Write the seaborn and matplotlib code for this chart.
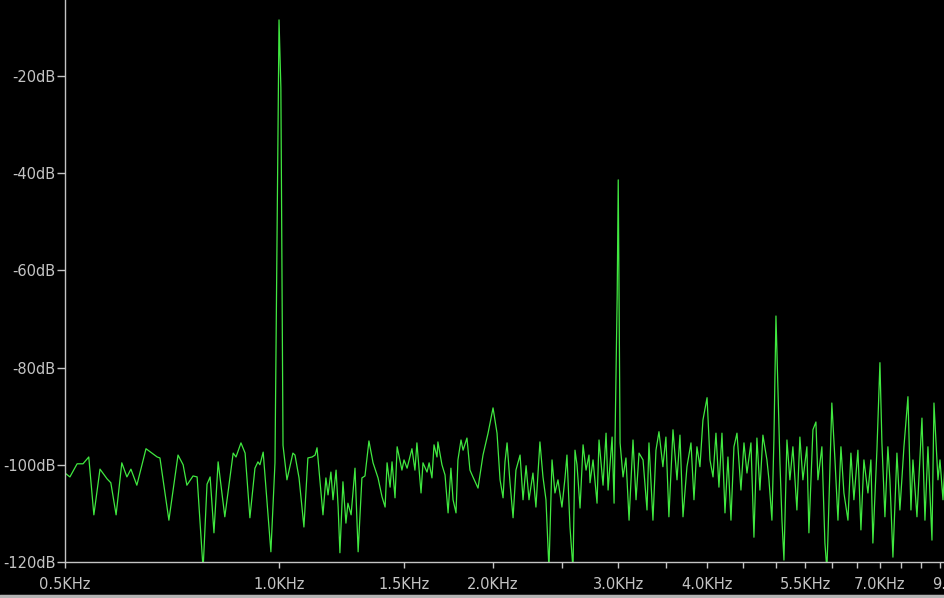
import matplotlib
matplotlib.use('Agg')
import numpy as np
import pandas as pd
import seaborn as sns
from matplotlib import pyplot as plt
from matplotlib.lines import Line2D
from matplotlib.ticker import FixedLocator, FixedFormatter, NullFormatter

# FFT trace (frequency in kHz, level in dB)
freq_khz = [
    0.500, 0.508, 0.520, 0.530, 0.540, 0.549, 0.560, 0.573, 0.580, 0.590,
    0.601, 0.611, 0.619, 0.631, 0.650, 0.674, 0.680, 0.700, 0.721, 0.733,
    0.742, 0.757, 0.767, 0.782, 0.792, 0.800, 0.810, 0.821, 0.839, 0.862,
    0.870, 0.884, 0.896, 0.910, 0.925, 0.934, 0.940, 0.950, 0.974, 0.987,
    0.994, 1.000, 1.006, 1.013, 1.026, 1.046, 1.053, 1.067, 1.084, 1.098,
    1.113, 1.124, 1.131, 1.153, 1.164, 1.172, 1.183, 1.191, 1.203, 1.211,
    1.218, 1.230, 1.242, 1.250, 1.263, 1.279, 1.292, 1.308, 1.321, 1.338,
    1.356, 1.378, 1.396, 1.410, 1.419, 1.433, 1.442, 1.456, 1.466, 1.489,
    1.499, 1.514, 1.538, 1.553, 1.563, 1.584, 1.594, 1.615, 1.626, 1.641,
    1.652, 1.668, 1.673, 1.695, 1.712, 1.729, 1.745, 1.757, 1.774, 1.785,
    1.803, 1.815, 1.838, 1.856, 1.874, 1.905, 1.936, 1.968, 2.000, 2.026,
    2.046, 2.066, 2.079, 2.093, 2.113, 2.134, 2.154, 2.183, 2.204, 2.226,
    2.247, 2.276, 2.298, 2.328, 2.351, 2.374, 2.397, 2.421, 2.444, 2.468,
    2.500, 2.525, 2.541, 2.566, 2.591, 2.608, 2.625, 2.651, 2.677, 2.703,
    2.729, 2.738, 2.765, 2.801, 2.819, 2.856, 2.884, 2.903, 2.941, 2.960,
    2.990, 3.000, 3.018, 3.047, 3.076, 3.107, 3.147, 3.178, 3.209, 3.251,
    3.293, 3.314, 3.357, 3.390, 3.423, 3.467, 3.501, 3.535, 3.582, 3.629,
    3.664, 3.700, 3.748, 3.797, 3.834, 3.871, 3.909, 3.947, 4.000, 4.038,
    4.078, 4.117, 4.157, 4.198, 4.239, 4.280, 4.322, 4.364, 4.407, 4.464,
    4.508, 4.552, 4.611, 4.656, 4.701, 4.747, 4.793, 4.856, 4.888, 4.935,
    4.967, 5.000, 5.065, 5.098, 5.131, 5.181, 5.231, 5.282, 5.351, 5.403,
    5.456, 5.527, 5.563, 5.636, 5.691, 5.728, 5.802, 5.859, 5.896, 5.915,
    5.992, 6.053, 6.112, 6.171, 6.231, 6.313, 6.374, 6.436, 6.520, 6.584,
    6.648, 6.735, 6.800, 6.844, 6.934, 7.002, 7.047, 7.116, 7.185, 7.232,
    7.303, 7.398, 7.470, 7.568, 7.667, 7.742, 7.792, 7.894, 8.023, 8.101,
    8.180, 8.287, 8.341, 8.450, 8.505, 8.588, 8.644, 8.700,
]
level_db = [
    -101.7, -102.5, -99.8, -99.8, -98.4, -110.3, -100.9, -102.9, -103.7, -110.3,
    -99.6, -102.5, -100.9, -104.2, -96.7, -98.4, -98.6, -111.4, -98.0, -100.0,
    -104.2, -102.3, -102.5, -121.5, -104.0, -102.5, -114.0, -99.4, -110.7, -97.6,
    -98.4, -95.5, -97.6, -110.9, -100.7, -99.4, -100.0, -97.4, -117.9, -99.6,
    -50.0, -8.5, -22.4, -96.0, -103.1, -97.6, -98.0, -102.7, -112.8, -98.6,
    -98.4, -98.0, -96.5, -110.3, -102.7, -106.2, -101.5, -107.2, -101.1, -108.7,
    -118.1, -103.5, -112.0, -107.9, -110.3, -100.7, -117.9, -102.7, -102.3, -95.1,
    -99.6, -102.7, -106.6, -108.7, -99.6, -104.6, -99.4, -106.8, -96.3, -101.1,
    -99.0, -100.7, -96.7, -101.1, -95.5, -105.8, -99.6, -101.5, -99.6, -102.7,
    -95.9, -98.4, -95.3, -100.0, -102.1, -109.9, -100.7, -107.2, -109.9, -99.0,
    -94.9, -97.0, -94.5, -101.1, -102.5, -104.8, -98.0, -93.5, -88.3, -93.5,
    -103.1, -106.8, -99.4, -95.5, -103.7, -110.9, -101.1, -98.0, -107.2, -100.2,
    -107.2, -101.7, -108.7, -95.3, -102.5, -107.2, -121.5, -99.0, -105.8, -103.1,
    -108.7, -102.7, -98.0, -112.8, -121.5, -97.0, -100.0, -108.9, -95.9, -101.1,
    -98.0, -103.7, -99.0, -107.9, -94.9, -104.2, -93.5, -105.2, -94.3, -107.9,
    -65.0, -41.4, -95.5, -102.5, -98.6, -111.4, -94.9, -107.2, -97.6, -99.0,
    -109.3, -95.5, -111.4, -97.0, -93.2, -100.4, -94.3, -110.7, -92.8, -103.1,
    -93.9, -110.7, -100.4, -95.5, -107.2, -96.3, -100.4, -90.8, -86.2, -99.0,
    -102.5, -93.5, -104.6, -93.5, -109.9, -98.4, -111.4, -96.3, -93.5, -105.2,
    -95.5, -101.7, -95.5, -114.9, -94.5, -105.2, -93.9, -99.0, -103.1, -111.4,
    -94.9, -69.4, -99.6, -111.4, -119.6, -94.9, -103.1, -96.3, -109.3, -94.3,
    -103.1, -96.3, -114.0, -92.8, -91.2, -103.1, -96.3, -116.1, -121.5, -115.5,
    -87.3, -99.0, -111.4, -96.3, -105.8, -111.4, -97.6, -107.2, -97.0, -113.4,
    -99.0, -105.8, -99.0, -116.1, -97.0, -79.0, -95.5, -110.7, -96.3, -103.1,
    -119.0, -97.6, -109.3, -96.3, -86.0, -109.3, -99.0, -110.7, -90.4, -111.4,
    -96.3, -115.5, -87.3, -103.1, -99.0, -107.2, -99.6, -104.0,
]

x_labelled = [0.5, 1.0, 1.5, 2.0, 3.0, 4.0, 5.5, 7.0, 9.0]
x_unlabelled = [2.5, 3.5, 4.5, 5.0, 6.0, 6.5, 7.5, 8.0, 8.5, 9.5, 10.0]
y_ticks = [-120, -100, -80, -60, -40, -20]

AXIS = '#c4c4c4'
TRACE = '#40e840'

sns.set_style('dark', {
    'axes.facecolor': 'black',
    'figure.facecolor': 'black',
    'axes.edgecolor': AXIS,
    'xtick.color': AXIS,
    'ytick.color': AXIS,
    'text.color': AXIS,
    'xtick.bottom': True,
    'ytick.left': True,
    'axes.grid': False,
})
plt.rcParams['font.family'] = ['DejaVu Sans']

df = pd.DataFrame({'freq': freq_khz, 'level': level_db})

fig = plt.figure(figsize=(9.45, 5.98), dpi=100)
# axes run past the right edge, like the cropped LTspice window
ax = fig.add_axes([65 / 945, 36 / 598, 935 / 945, 562 / 598])
sns.lineplot(data=df, x='freq', y='level', ax=ax, color=TRACE,
             linewidth=0.9, estimator=None, sort=False)

ax.set_xscale('log')
ax.set_xlim(0.5, 10.33)
ax.set_ylim(-120, -4.4)

ax.xaxis.set_major_locator(FixedLocator(x_labelled))
ax.xaxis.set_major_formatter(FixedFormatter([f'{v:.1f}KHz' for v in x_labelled]))
ax.xaxis.set_minor_locator(FixedLocator(x_unlabelled))
ax.xaxis.set_minor_formatter(NullFormatter())
ax.set_yticks(y_ticks)
ax.set_yticklabels([f'{v}dB' for v in y_ticks])

ax.tick_params(axis='x', which='both', direction='out', length=4.5, width=1,
               pad=6.5, labelsize=10.5, colors=AXIS)
ax.tick_params(axis='y', direction='out', length=6, width=1, pad=1,
               labelsize=10.5, colors=AXIS)

for side in ['top', 'right']:
    ax.spines[side].set_visible(False)
for side in ['left', 'bottom']:
    ax.spines[side].set_color(AXIS)
    ax.spines[side].set_linewidth(1)

ax.set_xlabel('')
ax.set_ylabel('')

# window border along the bottom
fig.add_artist(Line2D([0, 1], [2 / 598, 2 / 598], transform=fig.transFigure,
                      color='#b4b4b4', linewidth=2.5))

fig.savefig('out.png', dpi=100, facecolor='black')
